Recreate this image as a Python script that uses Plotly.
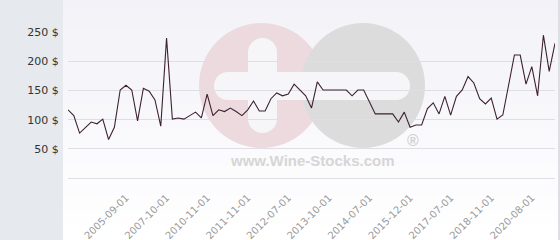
import plotly.graph_objects as go

dates = [
    "2004-01-01", "2004-03-01", "2004-05-01", "2004-06-01", "2004-08-01",
    "2004-10-01", "2004-12-01", "2005-02-01", "2005-04-01", "2005-06-01",
    "2005-09-01", "2005-12-01", "2006-03-01", "2006-06-01", "2006-10-01",
    "2007-02-01", "2007-06-01", "2007-10-01", "2008-03-01", "2008-09-01",
    "2009-03-01", "2009-08-01", "2010-01-01", "2010-06-01", "2010-11-01",
    "2010-12-01", "2011-02-01", "2011-04-01", "2011-06-01", "2011-08-01",
    "2011-10-01", "2011-11-01", "2011-12-01", "2012-01-01", "2012-02-01",
    "2012-04-01", "2012-05-01", "2012-06-01", "2012-07-01", "2012-09-01",
    "2012-11-01", "2013-01-01", "2013-03-01", "2013-05-01", "2013-08-01",
    "2013-10-01", "2013-11-01", "2013-12-01", "2014-01-01", "2014-03-01",
    "2014-04-01", "2014-06-01", "2014-07-01", "2014-09-01", "2014-11-01",
    "2015-02-01", "2015-05-01", "2015-08-01", "2015-10-01", "2015-12-01",
    "2016-03-01", "2016-05-01", "2016-08-01", "2016-11-01", "2017-02-01",
    "2017-04-01", "2017-07-01", "2017-09-01", "2017-11-01", "2018-01-01",
    "2018-04-01", "2018-06-01", "2018-09-01", "2018-11-01", "2019-01-01",
    "2019-04-01", "2019-07-01", "2019-10-01", "2020-02-01", "2020-05-01",
    "2020-08-01", "2020-11-01", "2021-02-01", "2021-05-01", "2021-08-01",
]

prices = [
    117, 107, 77, 87, 96, 93, 101, 66, 87, 151,
    159, 151, 98, 154, 149, 134, 89, 240, 101, 103,
    101, 107, 113, 103, 144, 107, 117, 114, 120, 114,
    107, 117, 132, 115, 115, 136, 146, 141, 144, 161,
    151, 141, 120, 165, 151, 151, 151, 151, 151, 141,
    151, 151, 130, 110, 110, 110, 110, 96, 113, 87,
    91, 91, 119, 129, 110, 140, 108, 140, 151, 174,
    163, 136, 127, 137, 101, 108, 160, 211, 211, 161,
    191, 141, 245, 183, 231,
]

x_tick_labels = [
    "2005-09-01", "2007-10-01", "2010-11-01", "2011-11-01", "2012-07-01",
    "2013-10-01", "2014-07-01", "2015-12-01", "2017-07-01", "2018-11-01",
    "2020-08-01",
]

y_tick_values = [50, 100, 150, 200, 250]
y_tick_text = ["50 $", "100 $", "150 $", "200 $", "250 $"]

W, H = 560, 240
ML, MR, MT, MB = 68, 5, 32, 62
PW, PH = W - ML - MR, H - MT - MB


def px(x):
    return (x - ML) / PW


def py(y):
    return (H - MB - y) / PH


def rect(x0, x1, y0, y1, color):
    return dict(type="rect", xref="paper", yref="paper",
                x0=px(x0), x1=px(x1), y0=py(y1), y1=py(y0),
                fillcolor=color, line=dict(width=0), layer="below")


def circ(x0, x1, y0, y1, color):
    return dict(type="circle", xref="paper", yref="paper",
                x0=px(x0), x1=px(x1), y0=py(y1), y1=py(y0),
                fillcolor=color, line=dict(width=0), layer="below")


fig = go.Figure()
fig.add_trace(go.Scatter(
    x=dates, y=prices, mode="lines",
    line=dict(color="#3d2130", width=1.1),
    hoverinfo="skip", showlegend=False,
))

shapes = []
n = 16
top = (242, 242, 248)
bot = (255, 255, 255)
for i in range(n):
    t = i / (n - 1)
    c = tuple(round(top[k] + (bot[k] - top[k]) * t) for k in range(3))
    shapes.append(rect(0, W, H * i / n, H * (i + 1) / n, "rgb(%d,%d,%d)" % c))
shapes.append(rect(0, 63, 0, H, "#e6e9ed"))
shapes.append(rect(558, 560, 0, H, "#dcdfe3"))
# watermark
shapes.append(circ(199, 324, 23, 148, "#ecdadf"))
shapes.append(circ(301, 425, 23, 148, "#dcdcdc"))
bar = "#f6f6f9"
shapes.append(rect(248, 277, 52, 119, bar))
shapes.append(circ(248, 277, 38, 67, bar))
shapes.append(circ(248, 277, 104, 133, bar))
shapes.append(rect(228, 396, 72, 100, bar))
shapes.append(circ(214, 242, 72, 100, bar))
shapes.append(circ(382, 410, 72, 100, bar))
fig.update_layout(shapes=shapes)

fig.add_annotation(text="<b>www.Wine-Stocks.com</b>", xref="paper", yref="paper",
                   x=px(312), y=py(160), showarrow=False,
                   font=dict(family="Liberation Sans", size=15, color="#d6d6d6"),
                   xanchor="center", yanchor="middle")
fig.add_annotation(text="<b>®</b>", xref="paper", yref="paper",
                   x=px(413), y=py(140), showarrow=False,
                   font=dict(family="Liberation Sans", size=16, color="#d0d0d0"),
                   xanchor="center", yanchor="middle")

fig.update_layout(
    width=W, height=H,
    margin=dict(l=ML, r=MR, t=MT, b=MB, autoexpand=False),
    paper_bgcolor="#f8f8fb",
    plot_bgcolor="rgba(0,0,0,0)",
    xaxis=dict(
        type="category", categoryorder="array", categoryarray=dates,
        range=[0, len(dates) - 1], automargin=False,
        tickmode="array", tickvals=x_tick_labels, ticktext=x_tick_labels,
        tickangle=-45, showgrid=False, zeroline=False,
        showline=True, linecolor="#dedee3", linewidth=1,
        ticks="outside", ticklen=9, tickcolor="rgba(0,0,0,0)",
        tickfont=dict(family="DejaVu Sans", size=10, color="#9a9a9a"),
    ),
    yaxis=dict(
        range=[0, 250.5], automargin=False,
        tickmode="array", tickvals=y_tick_values, ticktext=y_tick_text,
        showgrid=True, gridcolor="#dedee3", gridwidth=1, zeroline=False,
        ticks="outside", ticklen=6, tickcolor="rgba(0,0,0,0)",
        tickfont=dict(family="DejaVu Sans", size=11, color="#333333"),
    ),
)

fig.write_html("out.html")
